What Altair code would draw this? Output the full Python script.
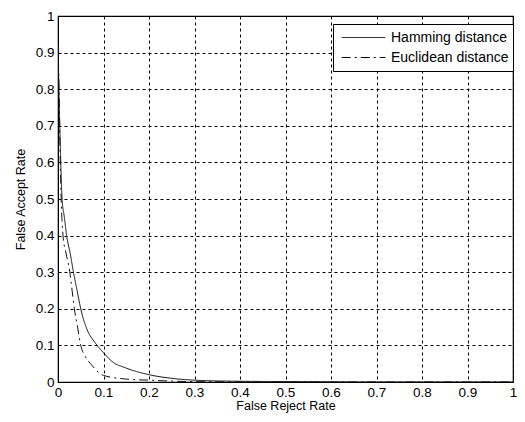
import altair as alt
import pandas as pd

ham_x = [0.0, 0.002, 0.005, 0.009, 0.014, 0.019, 0.027, 0.034, 0.042, 0.05, 0.065, 0.08, 0.1, 0.12, 0.15, 0.2, 0.25, 0.3, 0.4, 0.55, 0.7, 1.0]
ham_y = [0.93, 0.8, 0.65, 0.5, 0.45, 0.4, 0.35, 0.3, 0.25, 0.2, 0.14, 0.11, 0.08, 0.055, 0.038, 0.02, 0.01, 0.005, 0.002, 0.001, 0.0, 0.0]
euc_x = [0.0, 0.003, 0.005, 0.007, 0.011, 0.018, 0.026, 0.031, 0.036, 0.043, 0.05, 0.06, 0.075, 0.09, 0.1, 0.15, 0.2, 0.3, 0.55, 1.0]
euc_y = [0.93, 0.75, 0.6, 0.5, 0.4, 0.35, 0.3, 0.25, 0.2, 0.15, 0.1, 0.07, 0.045, 0.025, 0.018, 0.008, 0.005, 0.001, 0.0, 0.0]
series = ["Hamming distance", "Euclidean distance"]
ticks = [0, 0.1, 0.2, 0.3, 0.4, 0.5, 0.6, 0.7, 0.8, 0.9, 1]

rows = []
for i, (x, y) in enumerate(zip(ham_x, ham_y)):
    rows.append({"frr": x, "far": y, "method": series[0], "order": i})
for i, (x, y) in enumerate(zip(euc_x, euc_y)):
    rows.append({"frr": x, "far": y, "method": series[1], "order": i})
df = pd.DataFrame(rows)

font = "Liberation Sans"

chart = alt.Chart(df).mark_line(strokeWidth=1, interpolate="monotone", clip=True).encode(
    x=alt.X("frr:Q", title="False Reject Rate",
            scale=alt.Scale(domain=[0, 1], nice=False),
            axis=alt.Axis(values=ticks, format="~g", labelFlush=False, ticks=False,
                          labelPadding=3, titlePadding=1)),
    y=alt.Y("far:Q", title="False Accept Rate",
            scale=alt.Scale(domain=[0, 1], nice=False),
            axis=alt.Axis(values=ticks, format="~g", labelFlush=False, ticks=False,
                          labelPadding=4, titlePadding=8)),
    strokeDash=alt.StrokeDash("method:N",
                              scale=alt.Scale(domain=series, range=[[1, 0], [9, 4, 2, 4]]),
                              legend=alt.Legend(title=None, orient="none", legendX=275, legendY=8,
                                                symbolType="stroke", symbolSize=1900,
                                                clipHeight=19, rowPadding=1,
                                                symbolStrokeColor="black", symbolStrokeWidth=1,
                                                fillColor="white", strokeColor="black",
                                                padding=4, symbolOffset=4, labelOffset=5,
                                                labelFontSize=14, labelFont=font, labelColor="black")),
    color=alt.value("#111111"),
    order="order:Q",
).properties(
    width=455, height=366,
    autosize=alt.AutoSizeParams(type="none"),
    padding={"left": 50, "top": 8, "right": 4, "bottom": 32},
).configure_axis(
    grid=True, gridColor="black", gridDash=[3, 3], gridOpacity=1, gridWidth=1,
    domainColor="black", labelFont=font, titleFont=font, labelFontSize=13.5,
    titleFontSize=12.5, labelColor="black", titleColor="black", titleFontWeight="normal",
).configure_view(stroke="black", strokeWidth=1.2)

chart.save("out.html", embed_options={"renderer": "svg", "actions": False})
